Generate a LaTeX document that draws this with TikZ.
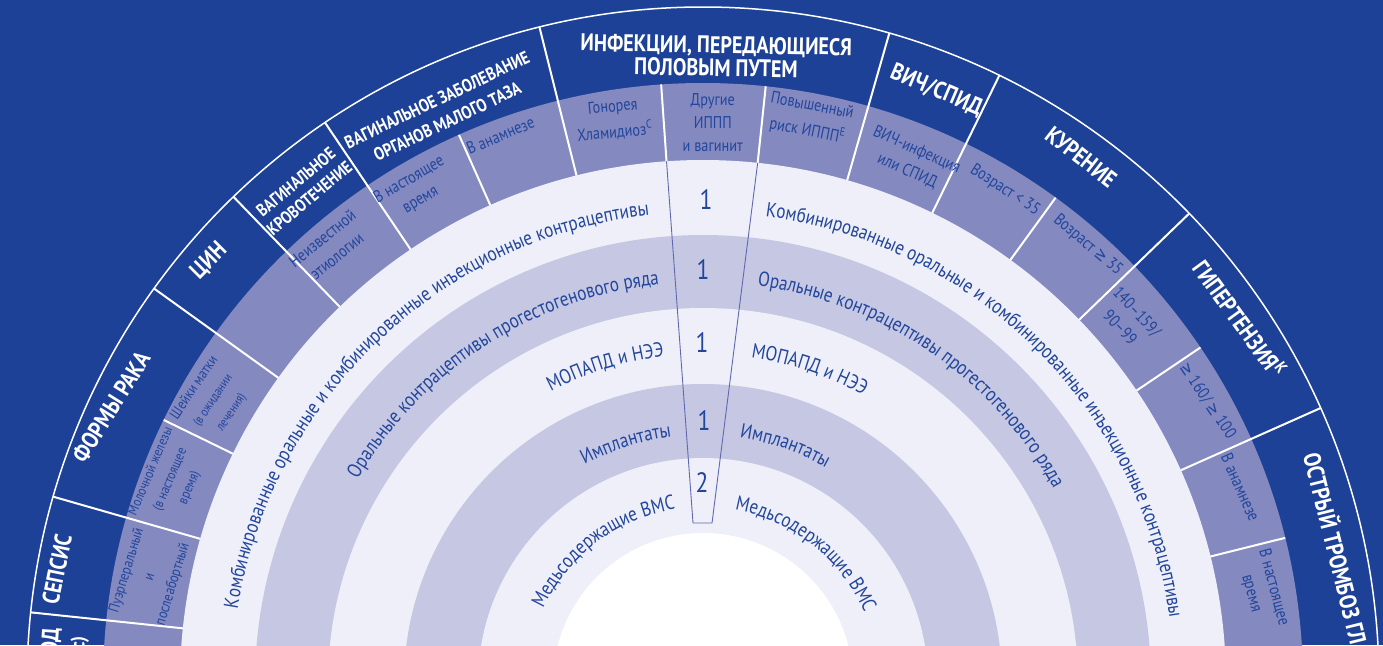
\documentclass[tikz,border=0pt]{standalone}
\usepackage{fontspec}
\setmainfont{PT Sans}[FakeStretch=0.84]
\newfontfamily\symf{DejaVu Sans}[FakeStretch=0.84]
\usetikzlibrary{decorations.text}
\definecolor{dblue}{HTML}{1D4196}
\definecolor{mblue}{HTML}{8489C0}
\definecolor{lrow}{HTML}{EEEFF8}
\definecolor{drow}{HTML}{C5C7E3}
\definecolor{tblue}{HTML}{22469C}
\definecolor{cline}{HTML}{6068B0}
\newcommand\rowfnt{\fontsize{20.4}{21}\selectfont}
\newcommand\rowL[3]{\path[decorate,decoration={text along path,text align=right,text color=tblue,text={|\rowfnt|#3}}] ([shift={(186:#1)}]C) arc[start angle=186,end angle=#2,radius=#1];}
\newcommand\rowR[3]{\path[decorate,decoration={text along path,text align=left,text color=tblue,text={|\rowfnt|#3}}] ([shift={(#2:#1)}]C) arc[start angle=#2,end angle=-6,radius=#1];}
\newcommand\gesym{{\symf ≥}}
\begin{document}
\begin{tikzpicture}[x=1pt,y=1pt,
  hdr/.style={text=white,font=\bfseries\fontsize{24}{23}\selectfont,align=center,inner sep=0pt},
  subt/.style={text=tblue,font=\fontsize{17}{23}\selectfont,align=center,inner sep=0pt},
  num/.style={text=tblue,font=\fontsize{28}{28}\selectfont,inner sep=0pt},
  divline/.style={white,line width=2pt},
  colline/.style={cline,line width=0.9pt}]
\useasboundingbox (0,-645) rectangle (1383,0);
\clip (0,-645) rectangle (1383,0);
\coordinate (C) at (703,-683);
% rings
\fill[dblue] (0,-645) rectangle (1383,0);
\fill[mblue] (C) circle[radius=600];
\fill[lrow] (C) circle[radius=523];
\fill[drow] (C) circle[radius=448];
\fill[lrow] (C) circle[radius=375];
\fill[drow] (C) circle[radius=299];
\fill[lrow] (C) circle[radius=225];
\fill[white] (C) circle[radius=150];
\draw[white,line width=1.5pt] (C) circle[radius=676];
% dividers
\foreach \a in {24,44,64,74,104,124,134,144.3,164,174}
  \draw[divline] ([shift={(\a:523)}]C) -- ([shift={(\a:676)}]C);
\foreach \a in {14,34,54,84,94,114,154}
  \draw[divline] ([shift={(\a:523)}]C) -- ([shift={(\a:600)}]C);
% centre column
\coordinate (cl1) at ([shift={(94:523)}]C);
\coordinate (cr1) at ([shift={(84:523)}]C);
\coordinate (cl2) at (693,-523);
\coordinate (cr2) at (712,-523);
\draw[colline] (cl1) -- (cl2) -- (cr2) -- (cr1);
\node[num] (n1) at (706,-200) {1};
\node[num] (n2) at (703,-270) {1};
\node[num] (n3) at (702,-343) {1};
\node[num] (n4) at (704,-421) {1};
\node[num] (n5) at (702,-483) {2};
% row texts
\rowL{471}{96.6}{Комбинированные оральные и комбинированные инъекционные контрацептивы}
\rowR{471}{82.4}{Комбинированные оральные и комбинированные инъекционные контрацептивы}
\rowL{401}{96.3}{Оральные контрацептивы прогестогенового ряда}
\rowR{401}{82.2}{Оральные контрацептивы прогестогенового ряда}
\rowL{329}{96.8}{МОПАПД и НЭЭ}
\rowR{329}{81.6}{МОПАПД и НЭЭ}
\rowL{248}{97.3}{Имплантаты}
\rowR{248}{81.5}{Имплантаты}
\rowL{176}{99}{Медьсодержащие ВМС}
\rowR{176}{79.6}{Медьсодержащие ВМС}
% headers
\node[hdr,rotate=-1] (hSTI) at ([shift={(88.8:627)}]C) {ИНФЕКЦИИ, ПЕРЕДАЮЩИЕСЯ\\ПОЛОВЫМ ПУТЕМ};
\node[hdr,rotate=-23] (hHIV) at ([shift={(68.5:637)}]C) {ВИЧ/СПИД};
\node[hdr,rotate=-38] (hSmoke) at ([shift={(54.3:648)}]C) {КУРЕНИЕ};
\node[hdr,rotate=-54] (hHyp) at ([shift={(34.2:649)}]C) {ГИПЕРТЕНЗИЯ\textsuperscript{К}};
\node[hdr,rotate=-76,anchor=west] (hDVT) at ([shift={(20.7:652)}]C) {ОСТРЫЙ ТРОМБОЗ ГЛ};
\node[hdr,rotate=45] (hCIN) at ([shift={(139.5:650)}]C) {ЦИН};
\node[hdr,rotate=40,font=\bfseries\fontsize{17.5}{21}\selectfont] (hBleed) at ([shift={(129.1:635)}]C) {ВАГИНАЛЬНОЕ\\КРОВОТЕЧЕНИЕ};
\node[hdr,rotate=25.5,font=\bfseries\fontsize{18}{24}\selectfont] (hPID) at ([shift={(114.5:629)}]C) {ВАГИНАЛЬНОЕ ЗАБОЛЕВАНИЕ\\ОРГАНОВ МАЛОГО ТАЗА};
\node[hdr,rotate=58] (hCancer) at ([shift={(155:653)}]C) {ФОРМЫ РАКА};
\node[hdr,rotate=78.5] (hSepsis) at ([shift={(170:656)}]C) {СЕПСИС};
\node[hdr,rotate=86,anchor=east] (hPP1) at (52,-628) {ОД};
\node[hdr,rotate=86,anchor=east,font=\bfseries\fontsize{20}{20}\selectfont] (hPP2) at (80,-636) {(с)};
% sub headers
\node[subt,rotate=5,font=\fontsize{17}{26}\selectfont] (sGon) at ([shift={(99:570)}]C) {Гонорея\\Хламидиоз\textsuperscript{C}};
\node[subt] (sOther) at ([shift={(89:560)}]C) {Другие\\ИППП\\и вагинит};
\node[subt,rotate=-11,font=\fontsize{17}{26}\selectfont] (sRisk) at ([shift={(79.3:574)}]C) {Повышенный\\риск ИППП\textsuperscript{E}};
\node[subt,rotate=-24] (sHIV) at ([shift={(68.2:563)}]C) {ВИЧ-инфекция\\или СПИД};
\node[subt,rotate=-33] (sAge1) at ([shift={(58.5:578)}]C) {Возраст < 35};
\node[subt,rotate=-40] (sAge2) at ([shift={(48.7:583)}]C) {Возраст \gesym{} 35};
\node[subt,rotate=-47] (sBP1) at ([shift={(40.5:560)}]C) {140–159/\\90–99};
\node[subt,rotate=-56] (sBP2) at ([shift={(29.2:578)}]C) {\gesym{} 160/ \gesym{} 100};
\node[subt,rotate=-66] (sDVT1) at ([shift={(20:572)}]C) {В анамнезе};
\node[subt,rotate=-75] (sDVT2) at ([shift={(9.4:567)}]C) {В настоящее\\время};
\node[subt,rotate=39] (sBleed) at ([shift={(130.6:574)}]C) {Неизвестной\\этиологии};
\node[subt,rotate=30] (sPID1) at ([shift={(120.3:571)}]C) {В настоящее\\время};
\node[subt,rotate=23] (sPID2) at ([shift={(110.3:584)}]C) {В анамнезе};
\node[subt,rotate=56,font=\fontsize{15}{22}\selectfont] (sCerv) at ([shift={(150:566)}]C) {Шейки матки\\{\fontsize{13}{22}\selectfont (в ожидании}\\{\fontsize{13}{22}\selectfont лечения)}};
\node[subt,rotate=67,font=\fontsize{14}{21}\selectfont] (sBreast) at ([shift={(159.1:570)}]C) {Молочной железы\\(в настоящее\\время)};
\node[subt,rotate=73,font=\fontsize{15}{24}\selectfont] (sSepsis) at ([shift={(169.2:563)}]C) {Пуэрперальный\\и\\послеабортный};
\end{tikzpicture}
\end{document}
